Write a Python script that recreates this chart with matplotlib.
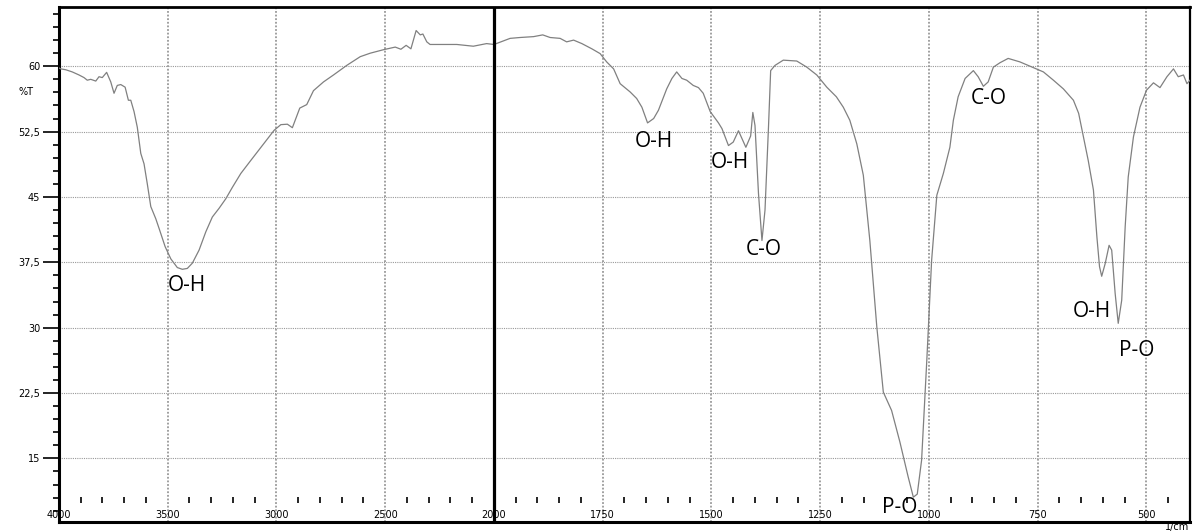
import numpy as np
import matplotlib.pyplot as plt

# IR spectrum (wavenumber in 1/cm, transmittance in %T)
wavenumber = [4000, 3992, 3969, 3939, 3908, 3885, 3870, 3854, 3831, 3816, 3801, 3781,
              3762, 3747, 3732, 3716, 3696, 3681, 3670, 3655, 3640, 3624, 3609, 3594,
              3578, 3555, 3540, 3512, 3486, 3456, 3433, 3410, 3387, 3356, 3325, 3295,
              3264, 3233, 3203, 3164, 3118, 3065, 3011, 2980, 2950, 2927, 2908, 2893,
              2861, 2830, 2784, 2738, 2677, 2615, 2569, 2508, 2454, 2428, 2404, 2382,
              2358, 2339, 2327, 2309, 2294, 2171, 2095, 2034, 2000, 1963, 1940, 1909,
              1888, 1871, 1848, 1833, 1817, 1798, 1775, 1756, 1741, 1725, 1710, 1687,
              1672, 1660, 1647, 1633, 1622, 1603, 1591, 1580, 1568, 1557, 1542, 1530,
              1519, 1503, 1484, 1476, 1461, 1450, 1438, 1421, 1410, 1405, 1400, 1392,
              1384, 1377, 1369, 1364, 1354, 1335, 1304, 1281, 1258, 1235, 1213, 1197,
              1182, 1166, 1151, 1136, 1120, 1105, 1086, 1067, 1048, 1036, 1027, 1017,
              1005, 994, 982, 967, 952, 944, 933, 917, 898, 887, 875, 864, 852, 837,
              818, 791, 753, 737, 714, 691, 668, 656, 645, 634, 622, 614, 608, 603,
              595, 586, 580, 572, 565, 557, 549, 542, 530, 515, 500, 484, 469, 453,
              438, 427, 415, 407, 400]
transmittance = [59.8, 59.7, 59.6, 59.35, 59.0, 58.7, 58.4, 58.5, 58.3, 58.8, 58.7, 59.3,
                 58.2, 56.9, 57.8, 57.9, 57.6, 56.1, 56.1, 54.8, 53.0, 50.0, 48.8, 46.5,
                 43.9, 42.5, 41.4, 39.3, 37.9, 36.9, 36.7, 36.8, 37.4, 38.9, 41.0, 42.7,
                 43.7, 44.8, 46.1, 47.7, 49.2, 50.9, 52.65, 53.3, 53.35, 52.95, 54.2, 55.2,
                 55.6, 57.2, 58.2, 59.0, 60.1, 61.1, 61.5, 61.9, 62.2, 61.95, 62.4, 62.0,
                 64.1, 63.6, 63.7, 62.8, 62.5, 62.5, 62.3, 62.6, 62.5, 63.2, 63.3, 63.4,
                 63.6, 63.3, 63.2, 62.8, 63.0, 62.6, 62.0, 61.45, 60.5, 59.7, 58.0, 57.05,
                 56.3, 55.3, 53.5, 54.0, 54.95, 57.4, 58.6, 59.35, 58.6, 58.4, 57.8, 57.55,
                 56.9, 54.8, 53.5, 52.85, 50.9, 51.3, 52.6, 50.7, 52.0, 54.7, 53.2, 45.4,
                 40.0, 43.5, 53.0, 59.5, 60.1, 60.7, 60.6, 59.9, 59.0, 57.6, 56.5, 55.3,
                 53.8, 51.1, 47.5, 40.0, 30.1, 22.6, 20.5, 16.9, 12.9, 10.55, 10.9, 14.8,
                 26.3, 37.7, 45.2, 47.7, 50.7, 53.8, 56.5, 58.6, 59.5, 58.8, 57.7, 58.2, 59.9, 60.4,
                 60.9, 60.5, 59.7, 59.35, 58.4, 57.4, 56.1, 54.6, 51.9, 49.2, 45.8, 40.4, 37.0, 35.9,
                 37.35, 39.45, 38.9, 33.9, 30.5, 33.15, 41.6, 47.3, 51.9, 55.3, 57.25, 58.1, 57.55, 58.8,
                 59.7, 58.8, 59.0, 58.0, 58.4]

# band labels: text, wavenumber, %T
band_text = ["O-H", "O-H", "O-H", "C-O", "P-O", "C-O", "O-H", "P-O"]
band_wn = [3411, 1632, 1457, 1380, 1067, 863, 626, 522]
band_t = [34.8, 51.4, 48.9, 38.96, 9.4, 56.3, 31.85, 27.4]

xticks = [4000, 3500, 3000, 2500, 2000, 1750, 1500, 1250, 1000, 750, 500]
yticks = [15, 22.5, 30, 37.5, 45, 52.5, 60]
ytick_labels = ["15", "22,5", "30", "37,5", "45", "52,5", "60"]


# above 2000 1/cm the axis is compressed by half
def forward(x):
    x = np.asarray(x, dtype=float)
    return np.where(x > 2000, 2000 + (x - 2000) * 0.5, x)


def inverse(y):
    y = np.asarray(y, dtype=float)
    return np.where(y > 2000, 2000 + (y - 2000) * 2.0, y)


fig = plt.figure(figsize=(11.95, 5.31), dpi=100)
ax = fig.add_axes([59 / 1195, 9 / 531, 1131 / 1195, 515 / 531])
ax.set_xscale("function", functions=(forward, inverse))
ax.set_xlim(4000, 400)
ax.set_ylim(7.7, 66.8)

ax.plot(wavenumber, transmittance, color="#808080", lw=0.9, zorder=3)
ax.axvline(2000, color="black", lw=2.3, zorder=4)

# axes, ticks and grid
ax.set_xticks(xticks)
ax.set_xticklabels([str(v) for v in xticks])
ax.xaxis.set_minor_locator(plt.NullLocator())
ax.tick_params(axis="x", length=0, pad=-8.5, labelsize=7)
ax.set_yticks(yticks)
ax.set_yticklabels(ytick_labels)
ax.set_yticks(np.arange(9, 66.1, 1.5), minor=True)
ax.tick_params(axis="y", which="major", length=11.5, width=1.2, pad=2, labelsize=7)
ax.tick_params(axis="y", which="minor", length=4.5, width=1.2)

ax.xaxis.grid(True, ls=(0, (1, 1)), color="#999999", lw=1.3)
ax.yaxis.grid(True, ls=(0, (1, 1)), color="#999999", lw=0.8)
ax.set_axisbelow(True)

for side, w in [("left", 2.2), ("bottom", 2.2), ("top", 2.0), ("right", 1.6)]:
    ax.spines[side].set_linewidth(w)

# small floating ticks along the bottom
minor_x = [v for v in range(3900, 2000, -100) if v % 500 != 0]
minor_x += [v for v in range(1950, 400, -50) if v % 250 != 0]
ax.plot(minor_x, np.full(len(minor_x), 0.042), ls="none", marker="|", ms=4,
        mew=1.2, color="black", transform=ax.get_xaxis_transform(), zorder=2)

for txt, x, y in zip(band_text, band_wn, band_t):
    ax.text(x, y, txt, ha="center", va="center", fontsize=15,
            family="Open Sans", zorder=5)

fig.text(26 / 1195, 1 - 92 / 531, "%T", ha="center", va="center", fontsize=7)
fig.text(1177 / 1195, 1 - 527 / 531, "1/cm", ha="center", va="center", fontsize=7)

fig.savefig("out.png", dpi=100)
